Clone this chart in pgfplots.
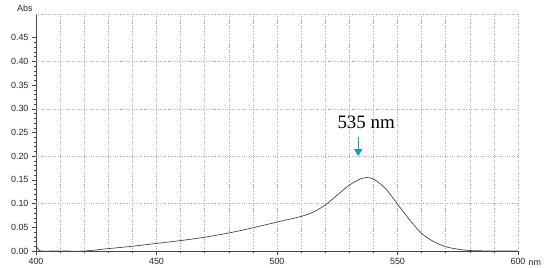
\documentclass[border=0pt]{standalone}
\usepackage{pgfplots}
\pgfplotsset{compat=1.18}
\usepackage{fontspec}
\setmainfont{Liberation Sans}
\newfontfamily\timesfont{Liberation Serif}
\usetikzlibrary{arrows.meta}

\definecolor{gridgray}{RGB}{175,175,175}
\definecolor{curvegray}{RGB}{70,70,70}
\definecolor{arrowblue}{RGB}{25,150,215}

\begin{document}
\begin{tikzpicture}
\useasboundingbox (-36bp,-17bp) rectangle (514bp,251bp);
\begin{axis}[
  scale only axis,
  width=482bp, height=237bp,
  xmin=400, xmax=600,
  ymin=0, ymax=0.5,
  axis lines=left,
  axis line style={-, draw=curvegray, line width=0.6pt},
  xtick={400,450,...,600},
  minor x tick num=4,
  ytick={0,0.05,...,0.46},
  minor y tick num=4,
  yticklabel style={/pgf/number format/.cd, fixed, fixed zerofill, precision=2},
  /pgf/number format/assume math mode=true,
  tick label style={font=\fontsize{9}{10}\selectfont, text=black!85},
  tick align=outside,
  major tick length=4bp,
  minor tick length=2bp,
  tick style={draw=curvegray, line width=0.5pt},
  xminorgrids, xmajorgrids,
  minor grid style={gridgray, dotted, line width=0.6pt},
  major grid style={gridgray, dotted, line width=0.6pt},
  extra y ticks={0.1,0.2,0.3,0.4,0.5},
  extra y tick labels={},
  extra y tick style={grid=major, major tick length=0pt},
  clip=false,
]
\addplot[curvegray, line width=0.7pt, smooth, tension=0.5] coordinates {
  (400,0.010)(401,0.004)(402,0.000)(410,0.000)(420,0.000)
  (430,0.005)(440,0.010)(450,0.016)(460,0.022)(470,0.029)
  (480,0.038)(490,0.049)(500,0.061)(510,0.073)(515,0.082)
  (520,0.097)(525,0.118)(530,0.139)(535,0.153)(537,0.155)
  (540,0.152)(545,0.132)(550,0.099)(555,0.066)(560,0.037)
  (565,0.020)(570,0.009)(575,0.004)(580,0.001)(590,0.000)(600,0.000)
};
\node[font=\fontsize{9}{10}\selectfont, text=black!85] at (rel axis cs:-0.023,1.022) {Abs};
\node[font=\fontsize{9}{10}\selectfont, text=black!85] at (rel axis cs:1.035,-0.05) {nm};
\node[font=\timesfont\fontsize{19}{22}\selectfont] at (axis cs:537,0.272) {535 nm};
\draw[arrowblue, line width=1.4pt, -{Triangle[width=8bp,length=7bp]}]
  (axis cs:533.7,0.241) -- (axis cs:533.7,0.200);
\end{axis}
\end{tikzpicture}
\end{document}
